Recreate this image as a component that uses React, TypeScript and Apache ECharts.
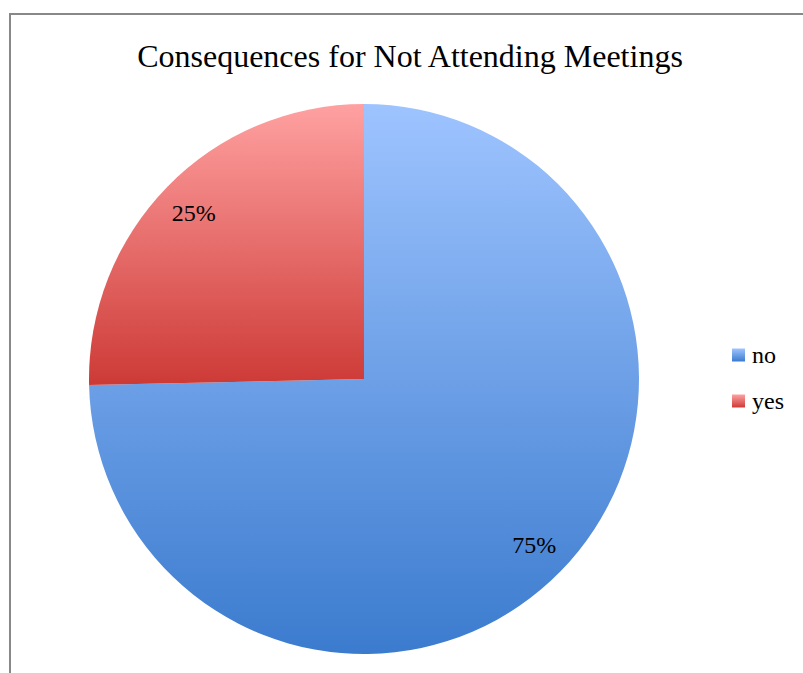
import React, { useEffect, useRef } from "react";
import * as echarts from "echarts";

const title = "Consequences for Not Attending Meetings";
const categories = ["no", "yes"];
const values = [74.65, 25.35];
const topColors = ["#9EC4FF", "#FFA1A1"];
const bottomColors = ["#3B7BCE", "#CD3A36"];

export default function App() {
  const ref = useRef<HTMLDivElement>(null);
  useEffect(() => {
    if (!ref.current) return;
    const chart = echarts.init(ref.current, null, { renderer: "svg" });
    const font = "Liberation Serif";
    const data = categories.map((c, i) => ({
      name: c,
      value: values[i],
      itemStyle: {
        color: new echarts.graphic.LinearGradient(0, 0, 0, 1, [
          { offset: 0, color: topColors[i] },
          { offset: 1, color: bottomColors[i] },
        ]),
      },
    }));
    chart.setOption({
      animation: false,
      backgroundColor: "#ffffff",
      title: {
        text: title,
        left: 405,
        textAlign: "center",
        top: 35,
        textStyle: { fontFamily: font, fontSize: 32, fontWeight: "normal", color: "#000" },
      },
      legend: {
        orient: "vertical",
        left: 732,
        top: 343,
        padding: 0,
        itemWidth: 13,
        itemHeight: 13,
        itemGap: 22,
        icon: "rect",
        textStyle: { fontFamily: font, fontSize: 24, color: "#000", padding: [0, 0, 0, 2] },
        data: categories,
      },
      graphic: [
        {
          type: "rect",
          shape: { x: 10, y: 14, width: 1000, height: 1000 },
          style: { fill: "none", stroke: "#888888", lineWidth: 2 },
          silent: true,
        },
      ],
      series: [
        {
          type: "pie",
          center: [364, 379],
          radius: [0, 275],
          startAngle: 90,
          clockwise: true,
          label: { show: false },
          labelLine: { show: false },
          emphasis: { disabled: true },
          data,
        },
        {
          type: "pie",
          center: [364, 379],
          radius: [195, 275],
          startAngle: 90,
          clockwise: true,
          silent: true,
          legendHoverLink: false,
          itemStyle: { color: "rgba(0,0,0,0)" },
          label: {
            show: true,
            position: "inside",
            formatter: (p: any) => Math.round(p.value) + "%",
            fontFamily: font,
            fontSize: 24,
            color: "#000",
          },
          labelLine: { show: false },
          emphasis: { disabled: true },
          data: categories.map((c, i) => ({ name: c + " ", value: values[i] })),
        },
      ],
    });
    return () => chart.dispose();
  }, []);
  return (
    <div
      ref={ref}
      style={{ position: "fixed", left: 0, top: 0, width: 803, height: 673 }}
    />
  );
}
